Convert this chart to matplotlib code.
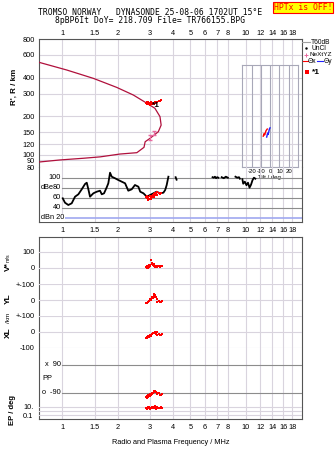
import numpy as np
import matplotlib
matplotlib.use("Agg")
import matplotlib.pyplot as plt

plt.rcParams['font.family'] = ['Liberation Sans', 'DejaVu Sans']

W, H = 335, 451
# ---------------- data ----------------
freq_ticks = [1, 1.5, 2, 3, 4, 5, 6, 7, 8, 10, 12, 14, 16, 18]
freq_labels = ['1', '1.5', '2', '3', '4', '5', '6', '7', '8', '10', '12', '14', '16', '18']
height_ticks = [80, 90, 100, 120, 150, 200, 300, 400, 600, 800]

prof_f = [0.746, 0.97, 1.30, 1.61, 2.06, 2.55, 2.79, 2.83, 3.01, 3.34, 3.46, 3.41, 3.2, 2.89, 2.44, 1.98, 1.477, 1.057, 0.746]
prof_h = [87.5, 90.8, 93.6, 96, 101, 103.5, 114, 126, 134, 151, 170, 198, 230, 252, 292, 335, 394, 458, 526]

echo_f = [2.85, 2.88, 2.9, 2.92, 2.95, 2.97, 3.0, 3.02, 3.05, 3.07, 3.1, 3.12, 3.15, 3.18, 3.2, 3.23, 3.26, 3.3, 3.35, 3.4, 3.45, 2.9, 3.0, 3.1, 3.2]
echo_h = [255, 250, 258, 252, 256, 249, 254, 251, 257, 250, 253, 248, 255, 250, 256, 252, 254, 258, 260, 262, 265, 247, 246, 249, 251]

nxt_f = [3.0, 3.18]
nxt_h = [136, 148]

tilt_x_red = [-7.5, -6.5, -6.0, -4.5, -3.2]
tilt_h_red = [134, 140, 137, 147, 151]
tilt_x_blue = [-3.8, -2.8, -2.2, -1.0, -0.2]
tilt_h_blue = [132, 141, 138, 150, 154]

dbe_f = [1.005, 1.034, 1.078, 1.125, 1.173, 1.223, 1.276, 1.33, 1.359, 1.387, 1.416, 1.477, 1.541, 1.606, 1.641, 1.689,
         1.747, 1.782, 1.821, 1.86, 1.94, 2.02, 2.11, 2.20, 2.29, 2.39, 2.49, 2.60, 2.66, 2.77, 2.89, 3.01, 3.14, 3.27,
         3.41, 3.56, 3.64, 3.71, 3.79, np.nan,
         4.15, 4.2, np.nan,
         6.6, 6.7, 6.8, 6.9, 7.0, 7.1, np.nan,
         7.4, 7.6, 7.8, 8.0, np.nan,
         8.8, 9.0, 9.2, 9.3, np.nan,
         9.6, 9.7, 9.9, 10.1, 10.3, 10.5, 10.7, 10.9, 11.1, 11.3]
dbe_v = [58.8, 50, 45.4, 48.8, 62, 66.8, 76.8, 87.4, 90, 76.8, 62, 68.8, 72, 74, 66.8, 68.8,
         80.8, 88.8, 110, 102, 98.8, 95.4, 92, 88.8, 74, 76.8, 85.4, 82, 72, 68.8, 62, 65.4, 68.8, 72,
         68.8, 70, 75.4, 85.4, 102, np.nan,
         101, 96, np.nan,
         101, 100, 102, 99, 101, 100, np.nan,
         101, 99, 102, 100, np.nan,
         102, 100, 101, 98, np.nan,
         97, 88, 92, 85, 90, 80, 86, 95, 100, 98]

red_dbe_f = [2.85, 2.88, 2.9, 2.93, 2.95, 2.98, 3.0, 3.03, 3.05, 3.08, 3.1, 3.12, 3.15, 3.18, 3.2, 3.22, 3.25, 3.28, 3.3, 3.35, 3.4, 3.45, 2.95, 3.05, 3.15]
red_dbe_v = [62, 60, 64, 58, 61, 57, 63, 60, 59, 64, 62, 66, 63, 68, 65, 70, 67, 71, 66, 69, 67, 70, 56, 58, 61]

bottom_f = [2.86, 2.88, 2.9, 2.92, 2.94, 2.96, 2.98, 3.0, 3.02, 3.05, 3.08, 3.1, 3.12, 3.15, 3.18, 3.2, 3.22, 3.25, 3.28, 3.3, 3.35, 3.4, 3.45, 3.48]
vstar = [8, 2, 15, 10, 0, 20, 5, 12, 18, 48, 25, 30, 18, 10, 22, 15, 8, 12, 5, 10, 15, 8, 12, 10]
yl = [-20, -15, -18, -10, -12, -5, -8, 0, 6, 2, 12, 19, 15, 27, 38, 30, 23, 18, 5, -9, -5, -10, -9, -8]
xl = [-35, -30, -38, -33, -25, -28, -30, -22, -18, -25, -13, -15, -8, -4, -6, 2, -5, -10, -3, -19, -12, -17, -20, -15]
pp = [-115, -120, -110, -118, -105, -112, -100, -108, -95, -102, -98, -88, -92, -85, -80, -75, -82, -85, -90, -95, -88, -100, -105, -98]
ep = [4, 6, 3, 5, 8, 4, 10, 6, 3, 5, 7, 4, 6, 9, 5, 4, 12, 3, 6, 8, 4, 5, 7, 6]

title1 = "TROMSO NORWAY   DYNASONDE 25-08-06 1702UT 15\u00b0E"
title2 = "8pBP6It DoY= 218.709 File= TR766155.BPG"

# ---------------- layout helpers ----------------
fig = plt.figure(figsize=(W / 100, H / 100), dpi=100)
fig.patch.set_facecolor('white')


def rect(x0, y0, x1, y1):
    return [x0 / W, 1 - y1 / H, (x1 - x0) / W, (y1 - y0) / H]


XL0, XR = 39, 302
FLIM = (0.746, 20.3)
GRID = '#d9d4de'
DARK = '#8c8c8c'
SPINE = '#555555'
FS = 5.3
RED = '#ff0000'


def base(ax, spines=('left', 'right', 'top', 'bottom')):
    ax.set_xscale('log')
    ax.set_xlim(*FLIM)
    ax.patch.set_alpha(0)
    for s in ax.spines:
        ax.spines[s].set_visible(s in spines)
        ax.spines[s].set_color(SPINE)
        ax.spines[s].set_linewidth(0.8)
    ax.minorticks_off()
    ax.set_xticks(freq_ticks)
    ax.set_xticklabels(freq_labels)
    ax.tick_params(axis='both', labelsize=FS, length=0, pad=2)
    ax.tick_params(axis='x', labelbottom=False, labeltop=False)
    ax.set_yticks([])


# ---------- height panel ----------
ax_h = fig.add_axes(rect(XL0, 39, XR, 167))
base(ax_h, ('left', 'right', 'top'))
ax_h.set_yscale('log')
ax_h.set_ylim(80, 800)
ax_h.minorticks_off()
ax_h.set_yticks(height_ticks)
ax_h.set_yticklabels([str(t) for t in height_ticks])
ax_h.tick_params(axis='y', labelsize=FS, length=0, pad=3)
ax_h.tick_params(axis='x', labeltop=True, pad=1.2)
for t in freq_ticks:
    ax_h.axvline(t, color=GRID, lw=0.8, zorder=0)
for t in height_ticks:
    ax_h.axhline(t, color=GRID, lw=0.8, zorder=0)
ax_h.plot(prof_f, prof_h, color='#b0103c', lw=0.9, zorder=3)
ax_h.errorbar(nxt_f, nxt_h, yerr=6, fmt='none', ecolor='#e86aa0', elinewidth=0.8, capsize=1.2, zorder=4)
ax_h.plot(echo_f, echo_h, 's', color=RED, ms=1.9, mew=0, zorder=5)
ax_h.text(3.07, 240, '*1', fontsize=6, fontweight='bold', va='center', ha='left', zorder=6)

# tilt inset
ax_t = fig.add_axes(rect(241.7, 64.7, 297.7, 167))
ax_t.patch.set_alpha(0)
for s in ax_t.spines.values():
    s.set_color('#a8a8b8')
    s.set_linewidth(0.8)
ax_t.set_xlim(-30.8, 29.7)
ax_t.set_yscale('log')
ax_t.set_ylim(80, 443)
ax_t.minorticks_off()
ax_t.set_yticks([])
tilt_ticks = [-20, -10, 0, 10, 20]
ax_t.set_xticks(tilt_ticks)
ax_t.set_xticklabels(['-20', '-10', '0', '10', '20'])
ax_t.tick_params(axis='x', labelsize=4.3, length=0, pad=1.5)
for t in tilt_ticks:
    ax_t.axvline(t, color='#a8a8b8', lw=0.8)
ax_t.set_xlabel('Tilt / deg', fontsize=4.3, labelpad=0.5)
ax_t.plot(tilt_x_red, tilt_h_red, color=RED, lw=1.0)
ax_t.plot(tilt_x_blue, tilt_h_blue, color='#2020ff', lw=1.0)

# ---------- dBe panel ----------
ax_d = fig.add_axes(rect(XL0, 167, XR, 222))
base(ax_d, ('left', 'right', 'bottom'))
ax_d.set_ylim(11.4, 121.4)
ax_d.tick_params(axis='x', labelbottom=True, pad=3.5)
for t in freq_ticks:
    ax_d.axvline(t, color=GRID, lw=0.8, zorder=0)
for v in [100, 80, 60, 40]:
    ax_d.plot([1.0, FLIM[1]], [v, v], color=DARK, lw=0.8, zorder=1)
ax_d.plot([0.89, FLIM[1]], [20, 20], color='#a0a8f0', lw=1.2, zorder=1)
ax_d.text(0.985, 100, '100', fontsize=FS, ha='right', va='center')
ax_d.text(0.985, 80, '80', fontsize=FS, ha='right', va='center')
ax_d.text(0.765, 80, 'dBe', fontsize=FS, ha='left', va='center')
ax_d.text(0.985, 60, '60', fontsize=FS, ha='right', va='center')
ax_d.text(0.985, 40, '40', fontsize=FS, ha='right', va='center')
ax_d.text(0.765, 20, 'dBn 20', fontsize=FS, ha='left', va='center',
          bbox=dict(facecolor='white', edgecolor='none', pad=0.3), zorder=3)
ax_d.plot(dbe_f, dbe_v, color='black', lw=1.3, zorder=4)
ax_d.plot(red_dbe_f, red_dbe_v, 's', color=RED, ms=1.9, mew=0, zorder=5)

# ---------- bottom frame ----------
ax_b = fig.add_axes(rect(XL0, 237, XR, 419))
base(ax_b)
ax_b.set_ylim(0, 1)
ax_b.tick_params(axis='x', labelbottom=True, pad=3.5)
for t in freq_ticks:
    ax_b.axvline(t, color=GRID, lw=0.8, zorder=0)
ax_b.set_xlabel('Radio and Plasma Frequency / MHz', fontsize=FS, labelpad=6)


def sub(y0, y1, lim, log=False):
    a = fig.add_axes(rect(XL0, y0, XR, y1))
    base(a, ())
    if log:
        a.set_yscale('log')
    a.set_ylim(*lim)
    a.minorticks_off()
    a.set_yticks([])
    return a


ax_v = sub(237, 284.3, (-100, 190))
ax_y = sub(284.3, 316, (-100, 100))
ax_x = sub(316, 348, (-100, 100))
ax_p = sub(348, 400, (-135, 199))
ax_e = sub(400, 419, (0.0109, 410), log=True)

for a, ticks, labs in [(ax_v, [100, 0], ['100', '0']),
                       (ax_y, [100, 0], ['+-100', '0']),
                       (ax_x, [100, 0, -100], ['+-100', '0', '-100'])]:
    for t in ticks:
        a.axhline(t, color=GRID, lw=0.8, zorder=0)
    a.set_yticks(ticks)
    a.set_yticklabels(labs)
    a.tick_params(axis='y', labelsize=FS, length=0, pad=3)

ax_v.plot(bottom_f, vstar, 's', color=RED, ms=1.9, mew=0)
ax_y.plot(bottom_f, yl, 's', color=RED, ms=1.9, mew=0)
ax_x.plot(bottom_f, xl, 's', color=RED, ms=1.9, mew=0)

for v in [90, -90]:
    ax_p.plot([1.0, FLIM[1]], [v, v], color=DARK, lw=0.8)
ax_p.text(0.985, 90, 'x  90', fontsize=FS, ha='right', va='center')
ax_p.text(0.985, -90, 'o  -90', fontsize=FS, ha='right', va='center')
ax_p.text(0.775, 0, 'PP', fontsize=FS, ha='left', va='center')
ax_p.plot(bottom_f, pp, 's', color=RED, ms=1.9, mew=0)

for v in [10, 1, 0.1]:
    ax_e.axhline(v, color=GRID, lw=0.8, zorder=0)
ax_e.set_yticks([10, 0.1])
ax_e.set_yticklabels(['10.', '0.1'])
ax_e.tick_params(axis='y', labelsize=FS, length=0, pad=4)
ax_e.plot(bottom_f, ep, 's', color=RED, ms=1.9, mew=0)

# ---------- y labels ----------
fig.text(14 / W, 1 - 87 / H, "R', R / km", rotation=90, fontsize=5.8, fontweight='bold', ha='center', va='center')
fig.text(8.5 / W, 1 - 266.5 / H, "V*", rotation=90, fontsize=6, fontweight='bold', ha='center', va='center')
fig.text(8.5 / W, 1 - 257.5 / H, "m/s", rotation=90, fontsize=3.8, ha='center', va='center')
fig.text(8.5 / W, 1 - 299 / H, "YL", rotation=90, fontsize=6, fontweight='bold', ha='center', va='center')
fig.text(8.5 / W, 1 - 318 / H, "/km", rotation=90, fontsize=4.6, ha='center', va='center')
fig.text(8.5 / W, 1 - 333 / H, "XL", rotation=90, fontsize=6, fontweight='bold', ha='center', va='center')
fig.text(13 / W, 1 - 410 / H, "EP / deg", rotation=90, fontsize=5.5, fontweight='bold', ha='center', va='center')

# ---------- titles ----------
fig.text(150 / W, 1 - 12.5 / H, title1, fontsize=5.75, family='DejaVu Sans Mono', ha='center', va='center')
fig.text(150 / W, 1 - 20.5 / H, title2, fontsize=5.75, family='DejaVu Sans Mono', ha='center', va='center')
fig.text(303 / W, 1 - 7.5 / H, "HPTx is OFF!", fontsize=5.9, family='DejaVu Sans Mono', color=RED,
         ha='center', va='center',
         bbox=dict(facecolor='#ffff00', edgecolor=RED, linewidth=0.8, pad=0.8))

# ---------- legend ----------
lg = fig.add_axes([0, 0, 1, 1])
lg.set_xlim(0, W)
lg.set_ylim(H, 0)
lg.axis('off')
lg.patch.set_alpha(0)
lg.plot([302, 310], [42, 42], color='#a0a0a0', lw=0.8)
lg.text(311, 42, 'T60dB', fontsize=4.8, va='center')
lg.plot([306], [48.3], '.', color='black', ms=1.5)
lg.text(311, 48.3, 'UnCl', fontsize=4.8, va='center')
lg.plot([305.5], [54.7], '+', color='#e86aa0', ms=3, mew=0.7)
lg.text(309.5, 54.7, 'NeXtYZ', fontsize=4.6, va='center')
lg.plot([303, 307.5], [61.3, 61.3], color=RED, lw=0.8)
lg.text(308, 61.3, '\u0398x', fontsize=4.8, va='center')
lg.plot([316.5, 323], [61.3, 61.3], color='#2020ff', lw=0.8)
lg.text(323.3, 61.3, '\u0398y', fontsize=4.8, va='center')
lg.plot([306.7], [71.7], 's', color=RED, ms=2.5, mew=0)
lg.text(312, 72, '*1', fontsize=6, fontweight='bold', va='center')

fig.savefig('out.png', dpi=100, facecolor='white')
